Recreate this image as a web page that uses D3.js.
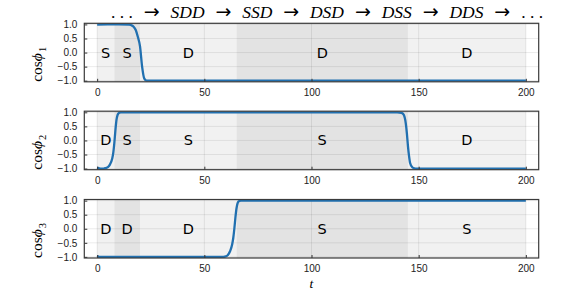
<!DOCTYPE html>
<html><head><meta charset="utf-8">
<script src="https://cdn.jsdelivr.net/npm/d3@7"></script>
<style>body{margin:0;background:#fff}svg{display:block}</style>
</head><body>
<svg id="c" width="581" height="291"></svg>
<script>
// ---- data ----
const titleStates = ["SDD", "SSD", "DSD", "DSS", "DDS"];
const regionBounds = [0, 8, 20, 65, 145, 200];
const regionShade = ["light", "dark", "light", "dark", "light"];
const regionLabels1 = ["S", "S", "D", "D", "D"];
const regionLabels2 = ["D", "S", "S", "S", "D"];
const regionLabels3 = ["D", "D", "D", "S", "S"];

const t1 = [0, 5, 10, 15, 16, 17, 18, 19, 20, 21, 22, 23, 24, 30, 100, 200];
const v1 = [0.99, 1, 1, 0.99, 0.97, 0.92, 0.8, 0.55, 0.22, -0.52, -0.93, -0.995, -1, -1, -1, -1];

const t2 = [0, 1, 2, 3, 4, 5, 6, 7, 7.5, 8, 8.5, 9, 9.5, 10, 11, 12, 20, 100, 140, 142, 143, 144, 144.5, 145, 145.5, 146, 147, 148, 149, 150, 200];
const v2 = [-0.96, -0.99, -1, -1, -0.98, -0.95, -0.85, -0.65, -0.45, -0.1, 0.35, 0.72, 0.9, 0.97, 0.995, 1, 1, 1, 1, 0.98, 0.92, 0.6, 0.25, -0.2, -0.55, -0.8, -0.95, -0.99, -1, -1, -1];

const t3 = [0, 1, 2, 50, 58, 60, 61, 62, 63, 63.5, 64, 64.5, 65, 65.5, 66, 67, 70, 200];
const v3 = [-0.97, -1, -1, -1, -1, -0.98, -0.93, -0.8, -0.55, -0.33, 0.0, 0.4, 0.72, 0.9, 0.97, 1, 1, 1];

const xTicks = [0, 50, 100, 150, 200];
const yTicks = [-1, -0.5, 0, 0.5, 1];
const yTickLabels = ["\u22121.0", "\u22120.5", "0.0", "0.5", "1.0"];
const yLabelSubs = ["1", "2", "3"];
const xLabel = "t";

// ---- layout ----
const svg = d3.select("#c");
const left = 84.3, right = 538.7;
const panelTops = [23.3, 111.2, 199.5];
const panelH = 58.5;
const shadeColor = {light: "#f1f1f1", dark: "#e3e3e3"};
const lineColor = "#2170b0";
const x = d3.scaleLinear().domain([-6, 206]).range([left, right]);

const series = [
  {t: t1, v: v1, labels: regionLabels1, sub: yLabelSubs[0]},
  {t: t2, v: v2, labels: regionLabels2, sub: yLabelSubs[1]},
  {t: t3, v: v3, labels: regionLabels3, sub: yLabelSubs[2]}
];

series.forEach((s, i) => {
  const top = panelTops[i], bottom = top + panelH;
  const y = d3.scaleLinear().domain([-1.04, 1.04]).range([bottom, top]);
  const g = svg.append("g");
  g.append("rect").attr("x", left).attr("y", top).attr("width", right - left).attr("height", panelH).attr("fill", "#fff");
  const clipId = "clip" + i;
  svg.append("clipPath").attr("id", clipId).append("rect")
    .attr("x", left).attr("y", top).attr("width", right - left).attr("height", panelH);

  const regs = regionShade.map((sh, k) => ({a: regionBounds[k], b: regionBounds[k + 1], sh, lab: s.labels[k]}));
  g.selectAll("rect.reg").data(regs).join("rect").attr("class", "reg")
    .attr("x", d => x(d.a)).attr("width", d => x(d.b) - x(d.a))
    .attr("y", top).attr("height", panelH)
    .attr("fill", d => shadeColor[d.sh]);

  g.selectAll("line.gx").data(xTicks).join("line").attr("class", "gx")
    .attr("x1", d => x(d)).attr("x2", d => x(d)).attr("y1", top).attr("y2", bottom)
    .attr("stroke", "#000").attr("stroke-opacity", 0.08).attr("stroke-width", 1);
  g.selectAll("line.gy").data(yTicks).join("line").attr("class", "gy")
    .attr("x1", left).attr("x2", right).attr("y1", d => y(d)).attr("y2", d => y(d))
    .attr("stroke", "#000").attr("stroke-opacity", 0.08).attr("stroke-width", 1);

  g.selectAll("text.rl").data(regs).join("text").attr("class", "rl")
    .attr("x", d => x((d.a + d.b) / 2)).attr("y", y(0))
    .attr("text-anchor", "middle").attr("dominant-baseline", "central")
    .attr("font-family", "DejaVu Sans, sans-serif").attr("font-size", 14.5).attr("fill", "#000")
    .text(d => d.lab);

  const pts = s.t.map((tt, k) => [tt, s.v[k]]);
  g.append("path").datum(pts)
    .attr("clip-path", `url(#${clipId})`)
    .attr("fill", "none").attr("stroke", lineColor).attr("stroke-width", 2.3)
    .attr("stroke-linejoin", "round").attr("stroke-linecap", "butt")
    .attr("d", d3.line().x(d => x(d[0])).y(d => y(d[1])).curve(d3.curveMonotoneX));

  const ax = g.append("g").attr("transform", `translate(${left},0)`)
    .call(d3.axisLeft(y).tickValues(yTicks).tickFormat((d, k) => yTickLabels[k]).tickSize(-3).tickPadding(7));
  ax.select(".domain").remove();
  ax.selectAll("line").attr("stroke", "#333");
  ax.selectAll("text").attr("font-family", "Liberation Sans, Arial, sans-serif").attr("font-size", 10).attr("fill", "#222");

  const bx = g.append("g").attr("transform", `translate(0,${bottom})`)
    .call(d3.axisBottom(x).tickValues(xTicks).tickFormat(d3.format("d")).tickSize(-3).tickPadding(7));
  bx.select(".domain").remove();
  bx.selectAll("line").attr("stroke", "#333");
  bx.selectAll("text").attr("font-family", "Liberation Sans, Arial, sans-serif").attr("font-size", 10).attr("fill", "#222");

  g.append("rect").attr("x", left).attr("y", top).attr("width", right - left).attr("height", panelH)
    .attr("fill", "none").attr("stroke", "#3a3a3a").attr("stroke-width", 1.2);

  const yl = g.append("text")
    .attr("transform", `translate(42,${bottom}) rotate(-90)`)
    .attr("text-anchor", "start")
    .attr("font-family", "Liberation Serif, Times New Roman, serif").attr("font-size", 15.5).attr("fill", "#000");
  yl.append("tspan").text("cos");
  yl.append("tspan").attr("font-style", "italic").text("\u03D5");
  yl.append("tspan").attr("font-size", 10.5).attr("dy", 4).attr("dx", 1).text(s.sub);
});

svg.append("text").attr("x", x(100)).attr("y", 287.5).attr("text-anchor", "middle")
  .attr("font-family", "Liberation Serif, Times New Roman, serif").attr("font-style", "italic")
  .attr("font-size", 13.5).text(xLabel);

// title
const title = svg.append("text").attr("y", 17.5)
  .attr("font-family", "Liberation Serif, Times New Roman, serif").attr("font-size", 17.5).attr("fill", "#000");
const tokens = [{s: ". . .", it: false}];
titleStates.forEach(st => { tokens.push({s: "\u2192", arrow: true}); tokens.push({s: st, it: true}); });
tokens.push({s: "\u2192", arrow: true});
tokens.push({s: ". . .", it: false});
const gap = 3;
const spans = tokens.map((tk, k) => {
  const sp = title.append("tspan").attr("dx", k === 0 ? 0 : gap).text(tk.s);
  if (tk.arrow) sp.attr("font-family", "DejaVu Sans, sans-serif").attr("font-size", 19);
  else sp.attr("font-style", tk.it ? "italic" : "normal");
  return sp;
});
const w = title.node().getComputedTextLength();
const targetW = 396;
const newGap = gap + (targetW - w) / (tokens.length - 1);
spans.forEach((sp, k) => { if (k > 0) sp.attr("dx", newGap); });
title.attr("x", 111);
</script>
</body></html>
